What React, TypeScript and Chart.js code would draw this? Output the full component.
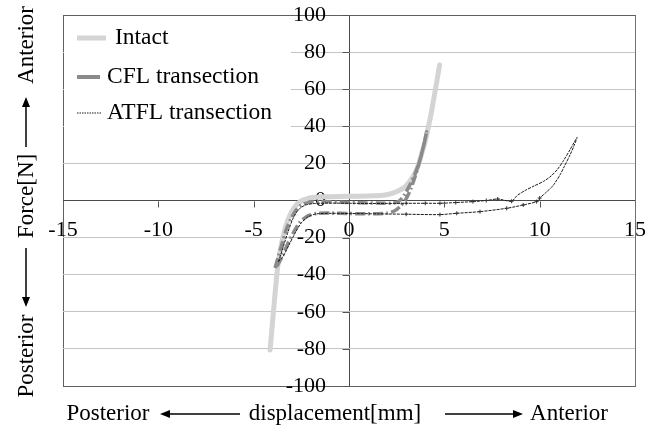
import React, { useEffect, useRef } from "react";
import { Chart, registerables } from "chart.js";

Chart.register(...registerables);

// ---- axis ranges / ticks ----
const X_MIN = -15;
const X_MAX = 15;
const X_STEP = 5;
const Y_MIN = -100;
const Y_MAX = 100;
const Y_STEP = 20;

// ---- series labels ----
const seriesLabels = ["Intact", "CFL transection", "ATFL transection"];

// ---- Intact ----
const intactX = [-4.14, -3.98, -3.85, -3.72, -3.55, -3.35, -3.1, -2.85, -2.55, -2.2, -1.8, -1.3, -0.5, 0.5, 1.3, 1.9, 2.3, 2.65, 2.95, 3.2, 3.46, 3.65, 3.82, 4.0, 4.17, 4.33, 4.5, 4.62, 4.75];
const intactY = [-80.6, -62, -47, -34, -24, -15, -8, -3.5, -0.5, 1.0, 1.7, 2.0, 2.2, 2.3, 2.5, 3.0, 4.0, 5.5, 7.5, 10.5, 14.8, 19.5, 25.6, 32, 40, 48, 58, 65, 73];

// ---- CFL transection ----
const cflX = [-3.88, -3.7, -3.5, -3.3, -3.05, -2.8, -2.5, -2.1, -1.5, -0.5, 0.5, 1.5, 2.2, 2.6, 2.9, 3.2, 3.45, 3.7, 3.9, 4.07, 3.95, 3.75, 3.5, 3.25, 3.0, 2.7, 2.4, 2.0, 1.0, 0, -1.0, -1.7, -2.2, -2.6, -2.9, -3.2, -3.45, -3.7, -3.88];
const cflY = [-36.4, -30, -23, -16, -10, -5.5, -2.5, -1.0, -0.6, -1.0, -1.2, -1.4, -1.5, -0.5, 3, 8.5, 14, 21, 29, 37, 31, 23, 14, 6.5, 1.0, -3, -5.5, -6.8, -7.2, -7.0, -6.8, -7.0, -8.5, -12, -17, -23, -29, -34, -36.4];

// ---- ATFL transection ----
const atflX = [-3.7, -3.45, -3.2, -2.95, -2.65, -2.3, -1.8, -1.0, 0, 1, 2, 3, 4, 4.77, 5.6, 6.5, 7.2, 7.8, 8.53, 8.8, 9.2, 9.7, 10.2, 10.6, 10.95, 11.25, 11.6, 11.96, 11.8, 11.59, 11.3, 11.06, 10.7, 10.37, 10.0, 9.84, 9.14, 8.27, 6.87, 5.65, 4.77, 3, 1.5, 0, -1, -1.7, -2.1, -2.5, -2.85, -3.15, -3.45, -3.7];
const atflY = [-33, -25, -17, -10, -5, -2.5, -1.6, -1.4, -1.5, -1.6, -1.6, -1.5, -1.5, -1.5, -1.1, -0.6, 0, 0.8, -0.4, 2.5, 5.2, 7.8, 10.3, 13.2, 17, 21.5, 27.5, 34, 29.5, 24.5, 18.5, 13.7, 8, 4.7, 1.3, -0.6, -2.4, -4.2, -6.0, -6.9, -7.6, -7.4, -7.2, -7.0, -6.9, -7.2, -8.5, -12, -18, -24, -30, -33];

const toPoints = (xs: number[], ys: number[]) => xs.map((x, i) => ({ x, y: ys[i] }));

const FONT = '"Liberation Serif", "Times New Roman", serif';

function drawArrow(ctx: CanvasRenderingContext2D, x1: number, y1: number, x2: number, y2: number) {
  const ang = Math.atan2(y2 - y1, x2 - x1);
  const head = 10;
  const hw = 4;
  const bx = x2 - head * Math.cos(ang);
  const by = y2 - head * Math.sin(ang);
  ctx.beginPath();
  ctx.moveTo(x1, y1);
  ctx.lineTo(bx, by);
  ctx.lineWidth = 1.5;
  ctx.strokeStyle = "#000";
  ctx.stroke();
  ctx.beginPath();
  ctx.moveTo(x2, y2);
  ctx.lineTo(bx + hw * Math.sin(ang), by - hw * Math.cos(ang));
  ctx.lineTo(bx - hw * Math.sin(ang), by + hw * Math.cos(ang));
  ctx.closePath();
  ctx.fillStyle = "#000";
  ctx.fill();
}

const decorPlugin = {
  id: "decor",
  beforeDatasetsDraw(chart: any) {
    const { ctx, chartArea, scales } = chart;
    const xs = scales.x;
    const ys = scales.y;
    const x0 = Math.round(xs.getPixelForValue(0)) + 0.5;
    const y0 = Math.round(ys.getPixelForValue(0)) + 0.5;
    ctx.save();
    // small tick marks on the crossing axes
    ctx.strokeStyle = "#555";
    ctx.lineWidth = 1;
    ctx.beginPath();
    xs.ticks.forEach((t: any) => {
      if (t.value === 0 || Math.abs(t.value) === X_MAX) return;
      const px = Math.round(xs.getPixelForValue(t.value)) + 0.5;
      ctx.moveTo(px, y0);
      ctx.lineTo(px, y0 + 6);
    });
    ys.ticks.forEach((t: any) => {
      const py = Math.round(ys.getPixelForValue(t.value)) + 0.5;
      ctx.moveTo(x0 - 7, py);
      ctx.lineTo(x0, py);
    });
    ctx.stroke();

    // legend (white box inside plot area)
    const L = chartArea.left;
    const T = chartArea.top;
    ctx.fillStyle = "#fff";
    ctx.fillRect(L + 1, T + 1, 227, 124);
    const rowY = [T + 23, T + 62, T + 98];
    const swEnd = [L + 43, L + 37, L + 39];
    const txtX = [L + 52, L + 44, L + 44];
    chart.data.datasets.forEach((ds: any, i: number) => {
      ctx.save();
      ctx.beginPath();
      ctx.strokeStyle = ds.borderColor;
      ctx.lineWidth = i === 0 ? 5 : i === 1 ? 4 : 1;
      ctx.setLineDash(i === 2 ? [1.5, 1] : []);
      ctx.moveTo(L + 14, rowY[i]);
      ctx.lineTo(swEnd[i], rowY[i]);
      ctx.stroke();
      ctx.restore();
      ctx.fillStyle = "#000";
      ctx.font = `23.5px ${FONT}`;
      ctx.textAlign = "left";
      ctx.textBaseline = "middle";
      ctx.fillText(ds.label, txtX[i], rowY[i]);
    });
    ctx.restore();
  },
  afterDraw(chart: any) {
    const { ctx } = chart;
    ctx.save();
    ctx.fillStyle = "#000";
    ctx.font = `23px ${FONT}`;
    ctx.textBaseline = "alphabetic";
    ctx.textAlign = "center";
    // x title
    const by = 420;
    ctx.fillText("Posterior", 108, by);
    ctx.fillText("displacement[mm]", 335, by);
    ctx.fillText("Anterior", 569, by);
    drawArrow(ctx, 240, 414, 160, 414);
    drawArrow(ctx, 445, 414, 523, 414);
    // y title (rotated)
    const bx = 33;
    const drawRot = (txt: string, yc: number) => {
      ctx.save();
      ctx.translate(bx, yc);
      ctx.rotate(-Math.PI / 2);
      ctx.fillStyle = "#000";
      ctx.textAlign = "center";
      ctx.textBaseline = "alphabetic";
      ctx.fillText(txt, 0, 0);
      ctx.restore();
    };
    drawRot("Anterior", 45);
    drawRot("Force[N]", 196);
    drawRot("Posterior", 356);
    drawArrow(ctx, 26, 147, 26, 97);
    drawArrow(ctx, 26, 248, 26, 307);
    ctx.restore();
  },
};

export default function App() {
  const ref = useRef<HTMLCanvasElement>(null);
  useEffect(() => {
    const common = { showLine: true, pointRadius: 0, fill: false, tension: 0.25 };
    const chart = new Chart(ref.current as HTMLCanvasElement, {
      type: "scatter",
      data: {
        datasets: [
          { ...common, label: seriesLabels[0], data: toPoints(intactX, intactY), borderColor: "#d4d4d4", borderWidth: 5, borderCapStyle: "round", borderJoinStyle: "round", order: 3 },
          { ...common, label: seriesLabels[1], data: toPoints(cflX, cflY), borderColor: "#8a8a8a", borderWidth: 3.5, borderDash: [10, 3, 2, 3], order: 2 },
          {
            ...common,
            label: seriesLabels[2],
            data: toPoints(atflX, atflY),
            borderColor: "#1a1a1a",
            borderWidth: 1,
            borderDash: [3, 1],
            order: 1,
            pointStyle: "cross",
            pointBorderWidth: 1,
            pointBorderColor: "#333",
            pointRadius: (c: any) => (c.raw && c.raw.x > 2.5 && c.raw.x < 10.5 && c.raw.y < 2 ? 2 : 0),
          },
        ],
      } as any,
      options: {
        animation: false,
        responsive: true,
        maintainAspectRatio: false,
        events: [],
        layout: { autoPadding: false, padding: { top: 15, right: 0, left: 63, bottom: 0 } },
        font: { family: FONT },
        plugins: { legend: { display: false }, tooltip: { enabled: false }, title: { display: false } },
        scales: {
          x: {
            type: "linear",
            position: "bottom",
            min: X_MIN,
            max: X_MAX,
            afterFit: (s: any) => { s.height = 42; s.paddingLeft = 0; s.paddingRight = 0; },
            ticks: { stepSize: X_STEP, mirror: true, padding: 143, color: "#000", font: { family: FONT, size: 22 }, maxRotation: 0, minRotation: 0, autoSkip: false },
            grid: {
              drawTicks: false,
              color: (c: any) => (c.tick && c.tick.value === 0 ? "#4a4a4a" : c.tick && Math.abs(c.tick.value) === X_MAX ? "#606060" : "rgba(0,0,0,0)"),
              lineWidth: 1,
            },
            border: { display: true, color: "#606060" },
          },
          y: {
            type: "linear",
            position: "right",
            min: Y_MIN,
            max: Y_MAX,
            afterFit: (s: any) => { s.width = 24; s.paddingTop = 0; s.paddingBottom = 0; },
            ticks: { stepSize: Y_STEP, mirror: true, padding: -309, color: "#000", font: { family: FONT, size: 22 }, autoSkip: false },
            grid: {
              drawTicks: false,
              color: (c: any) => (c.tick && c.tick.value === 0 ? "#4a4a4a" : c.tick && Math.abs(c.tick.value) === Y_MAX ? "#606060" : "#c4c4c4"),
              lineWidth: 1,
            },
            border: { display: true, color: "#707070" },
          },
        },
      } as any,
      plugins: [decorPlugin],
    });
    return () => chart.destroy();
  }, []);
  return (
    <div style={{ position: "fixed", left: 0, top: 0, width: 659, height: 428, background: "#fff" }}>
      <canvas ref={ref} />
    </div>
  );
}
